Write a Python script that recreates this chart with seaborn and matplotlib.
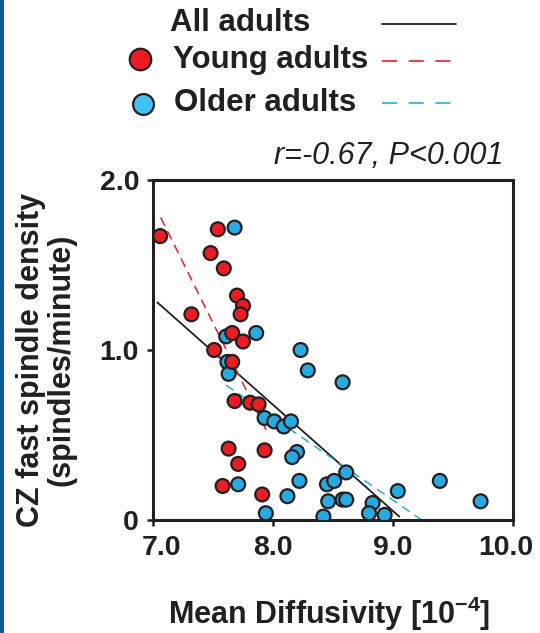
import numpy as np
import pandas as pd
import matplotlib.pyplot as plt
import matplotlib.transforms as mtransforms
from matplotlib.lines import Line2D
from matplotlib.patches import Rectangle
import seaborn as sns

# Valores
young_md = [7.06, 7.54, 7.48, 7.59, 7.70, 7.75, 7.73, 7.32, 7.66, 7.75,
            7.51, 7.66, 7.68, 7.81, 7.88, 7.63, 7.93, 7.71, 7.58, 7.91]
young_density = [1.67, 1.71, 1.57, 1.48, 1.32, 1.26, 1.21, 1.21, 1.10, 1.05,
                 1.00, 0.93, 0.70, 0.69, 0.68, 0.42, 0.41, 0.33, 0.20, 0.15]

older_md = [7.68, 7.61, 7.86, 8.23, 8.29, 7.62, 7.63, 8.58, 7.93, 8.01,
            8.09, 8.15, 8.20, 8.16, 7.71, 8.22, 8.12, 7.94, 8.42, 8.45,
            8.51, 8.46, 8.61, 8.58, 8.61, 8.83, 8.80, 8.93, 9.04, 9.39, 9.73]
older_density = [1.72, 1.08, 1.10, 1.00, 0.88, 0.93, 0.86, 0.81, 0.60, 0.58,
                 0.55, 0.58, 0.40, 0.37, 0.21, 0.23, 0.14, 0.04, 0.02, 0.21,
                 0.23, 0.11, 0.28, 0.12, 0.12, 0.10, 0.04, 0.03, 0.17, 0.23, 0.11]

# Rectas de regresion (extremos)
fit_all_md = [7.036, 9.053]
fit_all_density = [1.28, 0.02]
fit_young_md = [7.064, 7.942]
fit_young_density = [1.78, 0.53]
fit_older_md = [7.608, 9.239]
fit_older_density = [0.794, 0.0]

stats_text = "r=-0.67, P<0.001"
x_ticks = [7.0, 8.0, 9.0, 10.0]
x_tick_labels = ["7.0", "8.0", "9.0", "10.0"]
y_ticks = [0.0, 1.0, 2.0]
y_tick_labels = ["0", "1.0", "2.0"]

red = "#ed1c24"
blue = "#27aae1"
dark = "#231f20"

df = pd.DataFrame({
    'md': older_md + young_md,
    'density': older_density + young_density,
    'group': ['Older adults'] * len(older_md) + ['Young adults'] * len(young_md),
})

sns.set_style("ticks")
plt.rcParams['font.family'] = ['Liberation Sans', 'DejaVu Sans']
plt.rcParams['font.weight'] = 'bold'
plt.rcParams['mathtext.fontset'] = 'custom'
plt.rcParams['mathtext.rm'] = 'Liberation Sans:bold'
plt.rcParams['mathtext.bf'] = 'Liberation Sans:bold'
plt.rcParams['mathtext.default'] = 'rm'

W, H = 540, 633
fig = plt.figure(figsize=(W / 100, H / 100), dpi=100)
ax = fig.add_axes([153 / W, 1 - 520 / H, 360 / W, 340 / H])

# franja azul a la izquierda
fig.add_artist(Rectangle((0, 0), 4 / W, 1, transform=fig.transFigure,
                         color="#0b5ba3", lw=0))

# rectas
ax.plot(fit_all_md, fit_all_density, color=dark, lw=1.3, zorder=1)
ax.plot(fit_young_md, fit_young_density, color=red, lw=1.1, dashes=(6, 4), zorder=1)
ax.plot(fit_older_md, fit_older_density, color=blue, lw=1.1, dashes=(6, 4), zorder=1)

sns.scatterplot(data=df, x='md', y='density', hue='group',
                palette={'Young adults': red, 'Older adults': blue},
                s=100, edgecolor=dark, linewidth=1.6, legend=False, ax=ax, zorder=3)

ax.set_xlim(7.0, 10.0)
ax.set_ylim(0.0, 2.0)
ax.set_xticks(x_ticks)
ax.set_xticklabels(x_tick_labels)
ax.set_yticks(y_ticks)
ax.set_yticklabels(y_tick_labels)
ax.tick_params(axis='both', labelsize=20.5, width=1.8, length=4, color=dark,
               labelcolor=dark)
ax.tick_params(axis='y', pad=6)
ax.tick_params(axis='x', pad=7)
for sp in ax.spines.values():
    sp.set_visible(True)
    sp.set_linewidth(2.2)
    sp.set_color(dark)

# desplazar etiquetas extremas del eje x
xlabels = ax.get_xticklabels()
xlabels[0].set_transform(xlabels[0].get_transform() +
                         mtransforms.ScaledTranslation(8 / 100, 0, fig.dpi_scale_trans))
xlabels[-1].set_transform(xlabels[-1].get_transform() +
                          mtransforms.ScaledTranslation(-7 / 100, 0, fig.dpi_scale_trans))

ax.set_xlabel("Mean Diffusivity [10$^{-4}$]", fontsize=22, fontweight='bold', color=dark)
ax.xaxis.set_label_coords(0.49, -0.22)
ax.set_ylabel("CZ fast spindle density\n(spindles/minute)", fontsize=22,
              fontweight='bold', color=dark, linespacing=1.0)
ax.yaxis.set_label_coords(-0.213, 0.47)

ax.text(0.972, 1.025, stats_text, transform=ax.transAxes, ha='right', va='bottom',
        fontsize=22, fontstyle='italic', fontweight='normal', color=dark)

# leyenda manual
def fy(py):
    return 1 - py / H

fig.text(170 / W, fy(23), "All adults", fontsize=22.5, fontweight='bold',
         color=dark, va='center', ha='left')
fig.text(173 / W, fy(60), "Young adults", fontsize=22.5, fontweight='bold',
         color=dark, va='center', ha='left')
fig.text(174 / W, fy(103), "Older adults", fontsize=22.5, fontweight='bold',
         color=dark, va='center', ha='left')
fig.add_artist(Line2D([382 / W, 456 / W], [fy(24), fy(24)], transform=fig.transFigure,
                      color=dark, lw=1.3))
fig.add_artist(Line2D([382 / W, 452 / W], [fy(61), fy(61)], transform=fig.transFigure,
                      color=red, lw=1.2, dashes=(9, 7)))
fig.add_artist(Line2D([382 / W, 452 / W], [fy(103), fy(103)], transform=fig.transFigure,
                      color=blue, lw=1.2, dashes=(9, 7)))
fig.add_artist(Line2D([140 / W], [fy(59)], transform=fig.transFigure, marker='o',
                      markersize=15.5, markerfacecolor=red, markeredgecolor=dark,
                      markeredgewidth=1.6, lw=0))
fig.add_artist(Line2D([143 / W], [fy(104)], transform=fig.transFigure, marker='o',
                      markersize=15, markerfacecolor="#3ec4ee", markeredgecolor=dark,
                      markeredgewidth=1.6, lw=0))

fig.savefig("out.png", dpi=100)
